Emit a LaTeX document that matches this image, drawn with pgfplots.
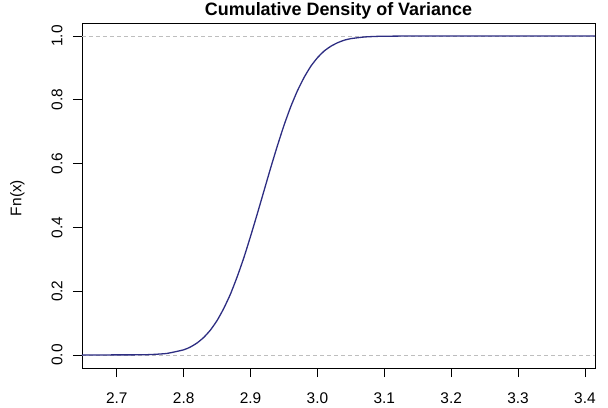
\documentclass[border=0pt]{standalone}
\usepackage{pgfplots}
\pgfplotsset{compat=1.18}
\usepackage{fontspec}
\setmainfont{Liberation Sans}
\definecolor{ecdfblue}{RGB}{45,45,130}
\definecolor{refgray}{RGB}{190,190,190}

\begin{document}
\begin{tikzpicture}
\useasboundingbox (-82bp,-40bp) rectangle (526bp,368bp);
\begin{axis}[
    at={(0,0)}, anchor=south west,
    scale only axis,
    width=513bp, height=345bp,
    xmin=2.648, xmax=3.415,
    ymin=-0.041, ymax=1.041,
    xtick={2.7,2.8,...,3.41},
    ytick={0,0.2,0.4,0.6,0.8,1.0},
    /pgf/number format/fixed,
    /pgf/number format/fixed zerofill,
    /pgf/number format/precision=1,
    /pgf/number format/assume math mode=true,
    yticklabel style={rotate=90, anchor=south},
    tick align=outside,
    major tick length=9bp,
    tick pos=left,
    axis line style={line width=0.75bp},
    every tick/.style={black, line width=0.75bp},
    ticklabel style={font=\fontsize{15.5}{18}\selectfont},
    xticklabel shift=12bp,
    yticklabel shift=7bp,
    ylabel={Fn(x)},
    ylabel style={font=\fontsize{15.5}{18}\selectfont, at={(-54bp,170bp)}, anchor=south},
    title={\textbf{Cumulative Density of Variance}},
    title style={font=\fontsize{18}{20}\selectfont, at={(0.5,1)}, anchor=base, yshift=2bp},
]
\addplot[refgray, line width=0.75bp, dash pattern=on 4bp off 3bp, forget plot]
    coordinates {(2.648,0) (3.415,0)};
\addplot[refgray, line width=0.75bp, dash pattern=on 4bp off 3bp, forget plot]
    coordinates {(2.648,1) (3.415,1)};
\addplot[ecdfblue, line width=1.3bp, smooth, tension=0.3] coordinates {
    (2.648,0) (2.725,0.0002) (2.75,0.0011) (2.775,0.0047) (2.80,0.016)
    (2.81,0.0248) (2.82,0.0374) (2.83,0.0548) (2.84,0.078) (2.85,0.108)
    (2.86,0.146) (2.87,0.191) (2.88,0.245) (2.89,0.305) (2.90,0.372)
    (2.91,0.442) (2.92,0.514) (2.93,0.586) (2.94,0.655) (2.95,0.720)
    (2.96,0.778) (2.97,0.828) (2.98,0.870) (2.99,0.905) (3.00,0.932)
    (3.01,0.953) (3.02,0.968) (3.03,0.979) (3.04,0.987) (3.05,0.992)
    (3.07,0.9971) (3.09,0.9991) (3.12,0.9999) (3.15,1.0) (3.415,1.0)
};
\end{axis}
\end{tikzpicture}
\end{document}
